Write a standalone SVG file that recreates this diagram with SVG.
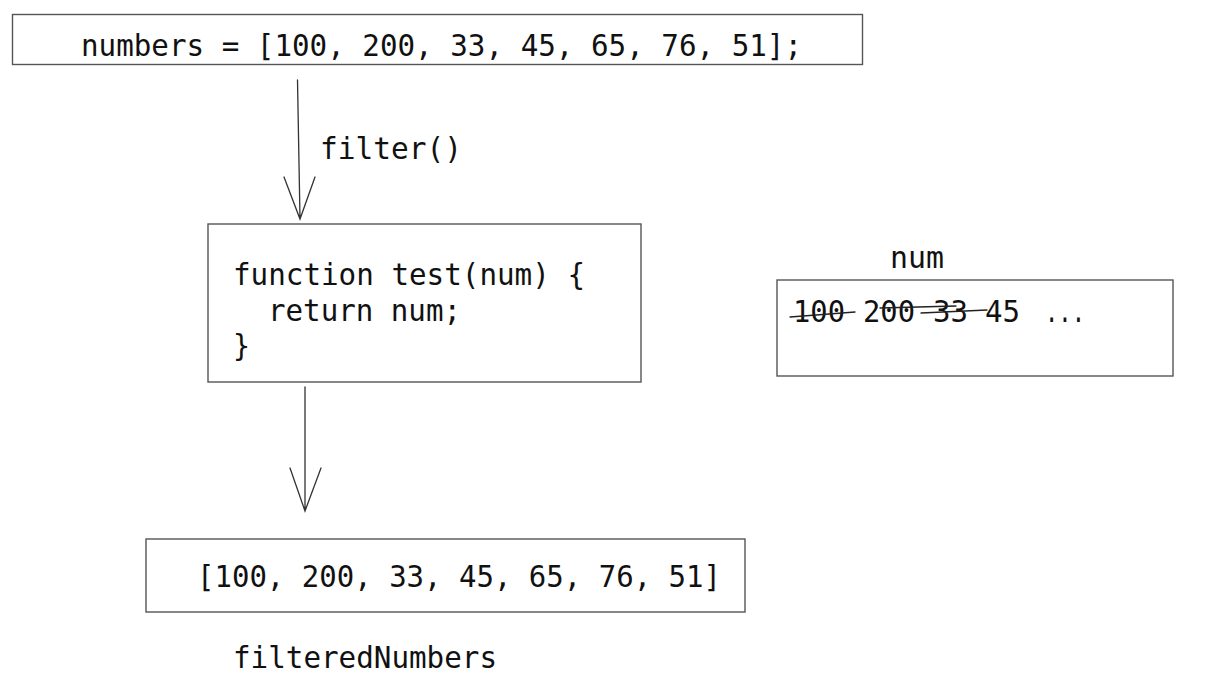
<svg xmlns="http://www.w3.org/2000/svg" width="1211" height="680" viewBox="0 0 1211 680">
<style>
.box{fill:#fff;stroke:#555;stroke-width:1.4}
.t{font-family:"DejaVu Sans Mono","Liberation Mono",monospace;font-size:31px;fill:#111}
.ln{stroke:#333;stroke-width:1.3;fill:none;stroke-linecap:round}
.st{stroke:#222;stroke-width:1.3;fill:none;stroke-linecap:round}
</style>
<rect width="1211" height="680" fill="#fff"/>
<g id="numbers">
<rect class="box" x="12.5" y="14.5" width="850" height="50"/>
<text class="t" x="81" y="56" textLength="721" lengthAdjust="spacingAndGlyphs">numbers = [100, 200, 33, 45, 65, 76, 51];</text>
</g>
<g id="filter-label">
<text class="t" x="320" y="159" textLength="142" lengthAdjust="spacingAndGlyphs">filter()</text>
</g>
<g id="test-fn">
<rect class="box" x="208" y="224" width="433" height="158"/>
<text class="t" x="233" y="285" textLength="352" lengthAdjust="spacingAndGlyphs">function test(num) {</text>
<text class="t" x="268" y="321" textLength="193" lengthAdjust="spacingAndGlyphs">return num;</text>
<text class="t" x="233" y="356" textLength="17" lengthAdjust="spacingAndGlyphs">}</text>
</g>
<g id="num-box">
<text class="t" x="890" y="268" textLength="54" lengthAdjust="spacingAndGlyphs">num</text>
<rect class="box" x="777" y="280" width="396" height="96"/>
<text class="t" x="793" y="322" textLength="52" lengthAdjust="spacingAndGlyphs">100</text>
<text class="t" x="863" y="322" textLength="52" lengthAdjust="spacingAndGlyphs">200</text>
<text class="t" x="933" y="322" textLength="35" lengthAdjust="spacingAndGlyphs">33</text>
<text class="t" x="985" y="322" textLength="35" lengthAdjust="spacingAndGlyphs">45</text>
<text class="t" x="1045" y="322" textLength="40" lengthAdjust="spacingAndGlyphs">...</text>
<path class="st" d="M790 317 L855 312"/>
<path class="st" d="M880 308 L956 306"/>
<path class="st" d="M921 313 L987 310"/>
</g>
<g id="filtered">
<rect class="box" x="146" y="539" width="599" height="73"/>
<text class="t" x="197" y="587" textLength="524" lengthAdjust="spacingAndGlyphs">[100, 200, 33, 45, 65, 76, 51]</text>
<text class="t" x="233" y="668" textLength="264" lengthAdjust="spacingAndGlyphs">filteredNumbers</text>
</g>
<g id="connectors">
<path class="ln" d="M297.5 80 L300 219 M284 177 L300 219 L315 177"/>
<path class="ln" d="M305 387 L305 511 M290 468 L305 511 L321 468"/>
</g>
</svg>
